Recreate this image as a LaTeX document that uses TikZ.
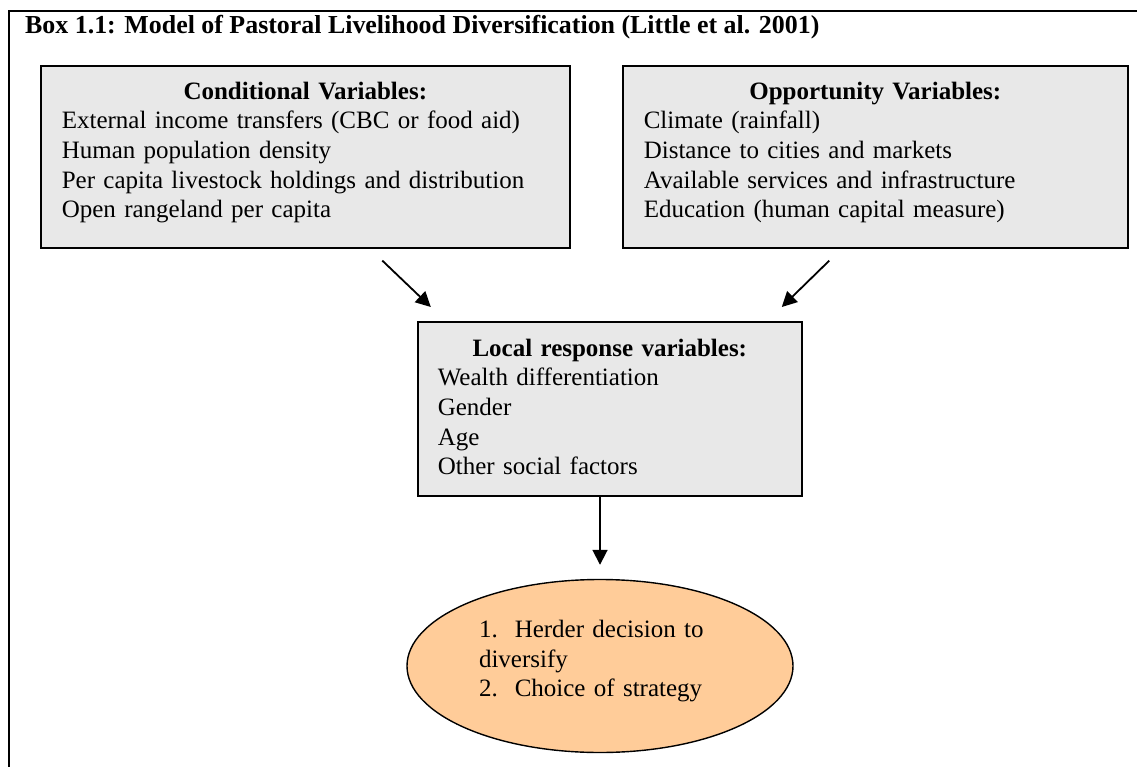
\documentclass[tikz,border=0pt]{standalone}
\usepackage{fontspec}
\setmainfont{Liberation Serif}
\usepackage{xcolor}
\usetikzlibrary{arrows.meta,positioning,shapes.geometric}
\definecolor{boxgray}{HTML}{E8E8E8}
\definecolor{peach}{HTML}{FFCC99}

\begin{document}
\begin{tikzpicture}[x=1pt,y=-1pt,every node/.style={font=\fontsize{25}{29.6}\selectfont,align=left},box/.style={draw,line width=1.6pt,fill=boxgray,anchor=north west,inner xsep=21pt,inner ysep=0pt},oval/.style={ellipse,draw,line width=1.4pt,fill=peach,inner sep=0pt,minimum width=386pt,minimum height=173pt,text width=242pt},arrow/.style={-{Triangle[length=15pt,width=15pt]},line width=1.8pt}]
\useasboundingbox (0,0) rectangle (1137,767);
\draw[line width=2pt] (9,767) -- (9,11) -- (1137,11);
\node[anchor=base west,inner sep=0pt,font=\fontsize{25.9}{30}\selectfont\bfseries] (title) at (25,34) {Box 1.1: Model of Pastoral Livelihood Diversification (Little et al. 2001)};
\node[box,minimum height=182pt,text width=487pt] (cond) at (40,65) {{\centering\bfseries Conditional Variables:\par}External income transfers (CBC or food aid)\\Human population density\\Per capita livestock holdings and distribution\\Open rangeland per capita\rule[-14pt]{0pt}{14pt}};
\node[box,minimum height=182pt,text width=463pt] (opp) at (622,65) {{\centering\bfseries Opportunity Variables:\par}Climate (rainfall)\\Distance to cities and markets\\Available services and infrastructure\\Education (human capital measure)\rule[-14pt]{0pt}{14pt}};
\node[box,minimum height=174pt,text width=344pt,inner xsep=20pt] (local) at (417,321) {{\centering\bfseries Local response variables:\par}Wealth differentiation\\Gender\\Age\\Other social factors\rule[-4pt]{0pt}{4pt}};
\node[oval] (herder) at (600,666) {1.\hspace{17pt}Herder decision to diversify\\2.\hspace{17pt}Choice of strategy\rule[-15pt]{0pt}{15pt}};
\coordinate[below right=12pt and 77pt of cond.south] (condout);
\coordinate[above left=14pt and 179pt of local.north] (condin);
\coordinate[below left=12pt and 46pt of opp.south] (oppout);
\coordinate[above right=14pt and 172pt of local.north] (oppin);
\coordinate[above=14pt of herder.north] (herdin);
\draw[arrow] (condout)--(condin);\draw[arrow] (oppout)--(oppin);\draw[arrow] (local.south -| herdin)--(herdin);
\end{tikzpicture}
\end{document}
